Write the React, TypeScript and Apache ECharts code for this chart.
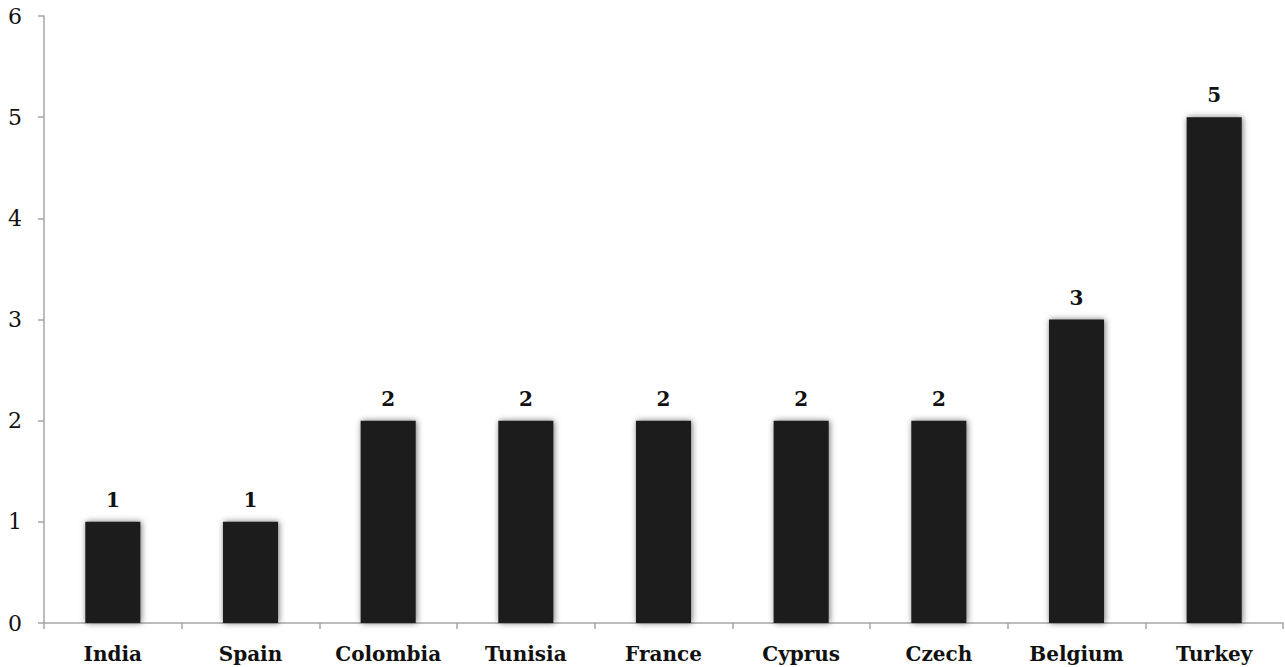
import React, { useEffect, useRef } from "react";
import * as echarts from "echarts";

const categories = ["India", "Spain", "Colombia", "Tunisia", "France", "Cyprus", "Czech", "Belgium", "Turkey"];
const values = [1, 1, 2, 2, 2, 2, 2, 3, 5];

const FONT = "'DejaVu Serif', 'Liberation Serif', serif";

export default function App() {
  const ref = useRef<HTMLDivElement>(null);
  useEffect(() => {
    if (!ref.current) return;
    const chart = echarts.init(ref.current, undefined, { renderer: "svg" });
    chart.setOption({
      animation: false,
      backgroundColor: "#ffffff",
      grid: { left: 44, right: 2, top: 16, bottom: 44, containLabel: false },
      xAxis: {
        type: "category",
        data: categories,
        axisLine: { lineStyle: { color: "#a6a6a6", width: 1.5 } },
        axisTick: { show: true, interval: 0, length: 6, alignWithLabel: false, lineStyle: { color: "#a6a6a6", width: 1.5 } },
        axisLabel: { interval: 0, hideOverlap: false, color: "#111", fontFamily: FONT, fontWeight: "bold", fontSize: 20, margin: 21 },
      },
      yAxis: {
        type: "value",
        min: 0,
        max: 6,
        interval: 1,
        splitLine: { show: false },
        axisLine: { show: true, lineStyle: { color: "#a6a6a6", width: 1.5 } },
        axisTick: { show: true, length: 6, lineStyle: { color: "#a6a6a6", width: 1.5 } },
        axisLabel: { color: "#111", fontFamily: FONT, fontSize: 22, margin: 22 },
      },
      series: [
        {
          type: "bar",
          data: values,
          barWidth: "40%",
          itemStyle: {
            color: "#1a1a1a",
            shadowColor: "rgba(0,0,0,0.55)",
            shadowBlur: 6,
            shadowOffsetX: 1,
            shadowOffsetY: 0,
          },
          label: {
            show: true,
            position: "top",
            distance: 12,
            color: "#111",
            fontFamily: FONT,
            fontWeight: "bold",
            fontSize: 20,
          },
        },
      ],
    });
    return () => chart.dispose();
  }, []);
  return <div ref={ref} style={{ width: 1285, height: 667, position: "absolute", left: 0, top: 0 }} />;
}
